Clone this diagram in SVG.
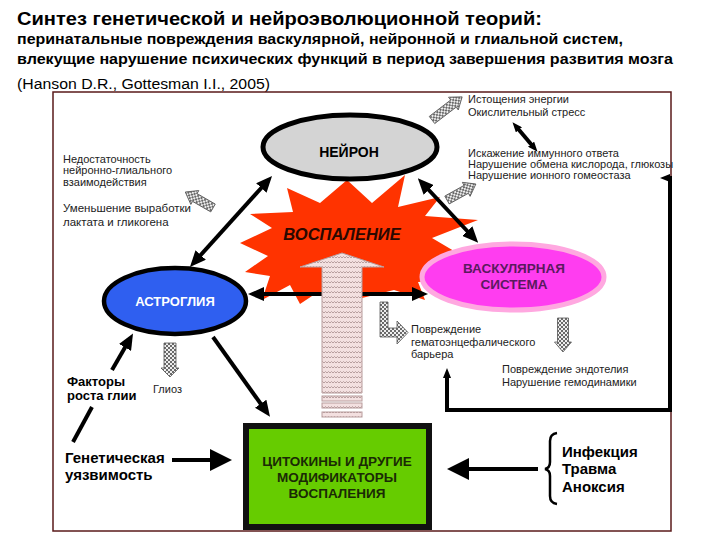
<svg xmlns="http://www.w3.org/2000/svg" width="720" height="540" viewBox="0 0 720 540">
<style>
text{font-family:"Liberation Sans",Arial,Helvetica,sans-serif;fill:#000}
.s{font-size:11px;fill:#222}
.m{font-size:11.5px;fill:#222}
.b{font-weight:bold}
.ln{stroke:#000;fill:none;stroke-width:4}
.hat{fill:url(#hatch);stroke:#555;stroke-width:0.8}
.big{fill:url(#wave);stroke:#b89c9c;stroke-width:1}
</style>
<defs>
<pattern id="hatch" width="4" height="4" patternUnits="userSpaceOnUse"><rect width="4" height="4" fill="#eeeeee"/><path d="M0 0h2v2H0zM2 2h2v2H2z" fill="#6a6a6a"/></pattern>
<pattern id="wave" width="6" height="5" patternUnits="userSpaceOnUse"><rect width="6" height="5" fill="#f3e0e0"/><path d="M0 3l1.5-1.5 1.5 1.5 1.5-1.5 1.5 1.5" stroke="#a88e8e" stroke-width="0.8" fill="none"/></pattern>
<marker id="ah" viewBox="0 0 16 14" refX="4" refY="7" markerWidth="16" markerHeight="14" markerUnits="userSpaceOnUse" orient="auto-start-reverse"><path d="M0 0L16 7L0 14z" fill="#000"/></marker>
<marker id="ahs" viewBox="0 0 10 8" refX="3" refY="4" markerWidth="10" markerHeight="8" markerUnits="userSpaceOnUse" orient="auto-start-reverse"><path d="M0 0L10 4L0 8z" fill="#000"/></marker>
<marker id="ahb" viewBox="0 0 22 22" refX="4" refY="11" markerWidth="22" markerHeight="22" markerUnits="userSpaceOnUse" orient="auto-start-reverse"><path d="M0 0L22 11L0 22z" fill="#000"/></marker>
</defs>
<rect width="720" height="540" fill="#fff"/>

<g id="title">
<text x="17" y="25" font-size="19" class="b" textLength="525" lengthAdjust="spacingAndGlyphs">Синтез генетической и нейроэволюционной теорий:</text>
<text x="17" y="44" font-size="15" class="b" textLength="606" lengthAdjust="spacingAndGlyphs">перинатальные повреждения васкулярной, нейронной и глиальной систем,</text>
<text x="17" y="64" font-size="15" class="b" textLength="656" lengthAdjust="spacingAndGlyphs">влекущие нарушение психических функций в период завершения развития мозга</text>
<text x="17" y="89" font-size="14" textLength="253" lengthAdjust="spacingAndGlyphs">(Hanson D.R., Gottesman I.I., 2005)</text>
</g>

<rect id="frame" x="53" y="92" width="618" height="439" fill="none" stroke="#5a1a1a" stroke-width="1.5"/>

<g id="inflammation">
<polygon fill="#ff3300" points="347,180 372,203 405,175 398,207 440,197 425,216 478,220 432,238 454,251 428,262 447,280 418,282 425,300 394,290 362,298 342,305 318,292 300,304 290,285 262,300 270,276 245,272 268,256 240,243 272,228 250,214 293,212 287,188 320,203"/>
<text x="342" y="240" font-size="16.5" class="b" font-style="italic" text-anchor="middle" style="fill:#2a0800">ВОСПАЛЕНИЕ</text>
</g>

<g id="neuron">
<ellipse cx="350" cy="147" rx="87" ry="32" fill="#d4d4d4" stroke="#000" stroke-width="5"/>
<text x="349" y="157" font-size="14" class="b" text-anchor="middle">НЕЙРОН</text>
</g>

<g id="astroglia">
<ellipse cx="175" cy="301" rx="71" ry="33" fill="#2f5ff0" stroke="#000" stroke-width="4.5"/>
<text x="175" y="306" font-size="13" class="b" text-anchor="middle" style="fill:#fff">АСТРОГЛИЯ</text>
</g>

<g id="vascular">
<ellipse cx="513" cy="277" rx="91" ry="33" fill="#ff3df0" stroke="#ffa8e0" stroke-width="5"/>
<text x="514" y="273" font-size="13.5" class="b" text-anchor="middle" style="fill:#5a1a5e">ВАСКУЛЯРНАЯ</text>
<text x="514" y="289" font-size="13.5" class="b" text-anchor="middle" style="fill:#5a1a5e">СИСТЕМА</text>
</g>

<g id="connectors">
<line class="ln" x1="198" y1="258" x2="264" y2="185" marker-start="url(#ah)" marker-end="url(#ah)"/>
<line class="ln" x1="426" y1="187" x2="470" y2="234" marker-start="url(#ah)" marker-end="url(#ah)"/>
<line class="ln" x1="260" y1="294" x2="416" y2="294" marker-start="url(#ah)" marker-end="url(#ah)"/>
<line class="ln" stroke-width="3.5" x1="213" y1="337" x2="263" y2="407" marker-end="url(#ah)"/>
<line class="ln" stroke-width="3.5" x1="112" y1="370" x2="127" y2="344" marker-end="url(#ah)"/>
<line class="ln" stroke-width="3.5" x1="92" y1="407" x2="73" y2="442"/>
<line class="ln" stroke-width="7" x1="172" y1="460" x2="214" y2="460" marker-end="url(#ahb)"/>
<line class="ln" stroke-width="6" x1="538" y1="469" x2="465" y2="469" marker-end="url(#ahb)"/>
<line class="ln" stroke-width="2.2" x1="517" y1="127.5" x2="533" y2="146.5" marker-start="url(#ahs)" marker-end="url(#ahs)"/>
<path class="ln" stroke-width="2.5" d="M667 178H670V410H447V375" marker-start="url(#ahs)" marker-end="url(#ahs)"/>
<polygon class="hat" transform="translate(432,120) rotate(-37.5)" points="0,-4.5 27,-4.5 27,-8 38,0 27,8 27,4.5 0,4.5"/>
<polygon class="hat" transform="translate(447,200) rotate(-29)" points="0,-4.5 22,-4.5 22,-8 33,0 22,8 22,4.5 0,4.5"/>
<polygon class="hat" transform="translate(213,208) rotate(-150)" points="0,-4.5 21,-4.5 21,-8 32,0 21,8 21,4.5 0,4.5"/>
<polygon class="hat" transform="translate(170,343) rotate(90)" points="0,-6 25,-6 25,-9 34,0 25,9 25,6 0,6"/>
<polygon class="hat" transform="translate(563,318) rotate(90)" points="0,-5.5 24,-5.5 24,-8.5 34,0 24,8.5 24,5.5 0,5.5"/>
<polygon class="hat" points="380,302 388,302 388,328 397,328 397,321 408,332.5 397,344 397,337 380,337"/>
<polygon class="big" points="342,253 384,267 362,267 362,393 322,393 322,267 300,267"/>
<rect class="big" x="322" y="396" width="40" height="5"/>
<rect class="big" x="322" y="403" width="40" height="5"/>
<rect class="big" x="322" y="412" width="40" height="5"/>
</g>

<g id="cytokines">
<rect x="246" y="426" width="183" height="101" fill="#66cc00" stroke="#111" stroke-width="6"/>
<text x="337" y="466" font-size="13.5" class="b" text-anchor="middle" style="fill:#1a2a05">ЦИТОКИНЫ И ДРУГИЕ</text>
<text x="337" y="482" font-size="13.5" class="b" text-anchor="middle" style="fill:#1a2a05">МОДИФИКАТОРЫ</text>
<text x="337" y="498" font-size="13.5" class="b" text-anchor="middle" style="fill:#1a2a05">ВОСПАЛЕНИЯ</text>
</g>

<g id="energy">
<text class="s" x="468" y="103">Истощения энергии</text>
<text class="s" x="468" y="116">Окислительный стресс</text>
</g>
<g id="immune">
<text class="s" x="468" y="157">Искажение иммунного ответа</text>
<text class="s" x="468" y="168">Нарушение обмена кислорода, глюкозы</text>
<text class="s" x="468" y="179">Нарушение ионного гомеостаза</text>
</g>
<g id="neuroglial">
<text class="s" x="63" y="163">Недостаточность</text>
<text class="s" x="63" y="174">нейронно-глиального</text>
<text class="s" x="63" y="186">взаимодействия</text>
</g>
<g id="lactate">
<text class="m" x="63" y="212">Уменьшение выработки</text>
<text class="m" x="63" y="226">лактата и гликогена</text>
</g>
<g id="bbb">
<text class="s" x="411" y="333">Повреждение</text>
<text class="s" x="411" y="346">гематоэнцефалического</text>
<text class="s" x="411" y="358">барьера</text>
</g>
<g id="endothelium">
<text class="s" x="502" y="373">Повреждение эндотелия</text>
<text class="s" x="502" y="386">Нарушение гемодинамики</text>
</g>
<g id="gliosis">
<text class="s" x="153" y="393">Глиоз</text>
</g>
<g id="factors">
<text x="67" y="386" font-size="13" class="b">Факторы</text>
<text x="67" y="400" font-size="13" class="b">роста глии</text>
</g>
<g id="genetic">
<text x="65" y="463" font-size="15" class="b">Генетическая</text>
<text x="65" y="480" font-size="15" class="b">уязвимость</text>
</g>
<g id="infection">
<path d="M557 433Q550 434 550 441V462Q550 468 545 469Q550 470 550 476V496Q550 503 557 504" fill="none" stroke="#000" stroke-width="2.5"/>
<text x="562" y="457" font-size="15" class="b">Инфекция</text>
<text x="562" y="474" font-size="15" class="b">Травма</text>
<text x="562" y="492" font-size="15" class="b">Аноксия</text>
</g>
</svg>
